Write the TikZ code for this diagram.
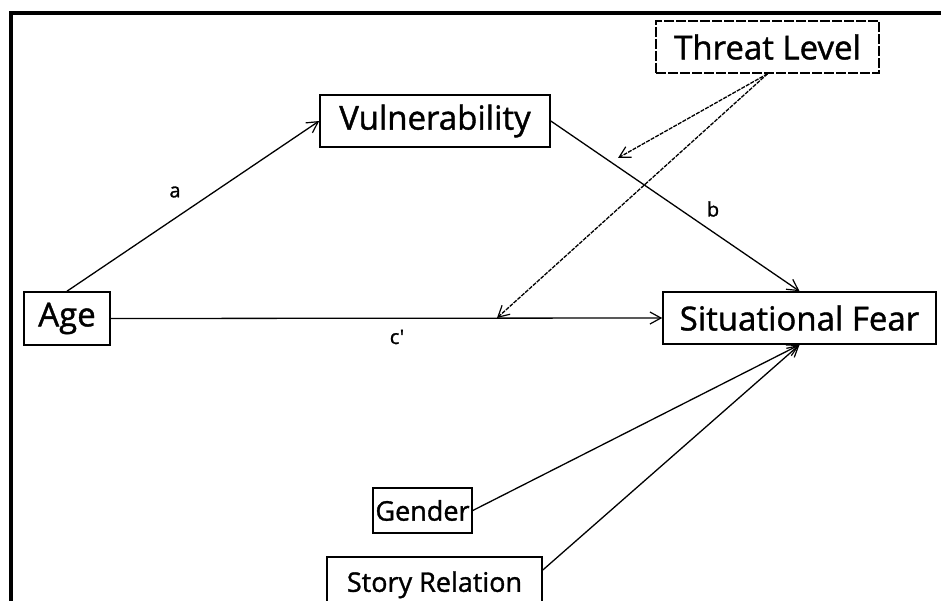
\documentclass[tikz,border=0pt]{standalone}
\usepackage{fontspec}
\setmainfont{Open Sans}[FakeBold=1.2, AutoFakeBold=1.2]
\newfontfamily\heavyfont{Open Sans}[FakeBold=1.2]
\usetikzlibrary{arrows.meta}
\tikzset{
  box/.style={draw=black, line width=1.6pt, inner sep=0pt, font=\heavyfont\fontsize{33}{36}\selectfont},
  dbox/.style={box, dash pattern=on 10pt off 2pt},
  conn/.style={line width=1.3pt, -{Straight Barb[length=11pt,width=12pt,line width=1.2pt]}},
  dconn/.style={conn, dash pattern=on 4pt off 1.2pt},
  lbl/.style={font=\heavyfont\fontsize{20}{22}\selectfont}
}
\begin{document}
\begin{tikzpicture}[x=1pt,y=-1pt]
\useasboundingbox (0,0) rectangle (941,601);
\clip (0,0) rectangle (941,601);
\fill[white] (0,0) rectangle (941,601);
% frame (left and top only)
\draw[line width=4pt] (11,610) -- (11,13) -- (950,13);
% nodes
\node[dbox, minimum width=223pt, minimum height=52pt] (thr) at (767.5,47) {Threat Level};
\node[box, minimum width=230pt, minimum height=52pt] (vul) at (435,121) {Vulnerability};
\node[box, minimum width=86pt, minimum height=53pt] (age) at (67,318.5) {Age};
\node[box, minimum width=273pt, minimum height=52pt] (sit) at (799.5,318) {Situational Fear};
\node[box, minimum width=99pt, minimum height=45pt, font=\heavyfont\fontsize{27}{30}\selectfont] (gen) at (422.5,510.5) {Gender};
\node[box, minimum width=215pt, minimum height=56pt, font=\heavyfont\fontsize{27}{30}\selectfont, anchor=north] (sto) at (434.5,556) {\raisebox{6pt}{Story Relation}};
% free ends of the moderator arrows
\coordinate (m1) at (618,158);
\coordinate (m2) at (497,318);
% connectors
\draw[conn] (age.north) -- (vul.west);
\draw[conn] (vul.east) -- (sit.north);
\draw[conn] (age.east) -- (sit.west);
\draw[conn] (gen.east) -- (sit.south);
\draw[conn] ([yshift=-14pt]sto.north east) -- (sit.south);
\draw[dconn] (thr.south) -- (m1);
\draw[dconn] (thr.south) -- (m2);
% labels
\node[lbl] (la) at (175,192) {a};
\node[lbl] (lb) at (713,209) {b};
\node[lbl] (lc) at (397,337) {c\char"0027};
\end{tikzpicture}
\end{document}
